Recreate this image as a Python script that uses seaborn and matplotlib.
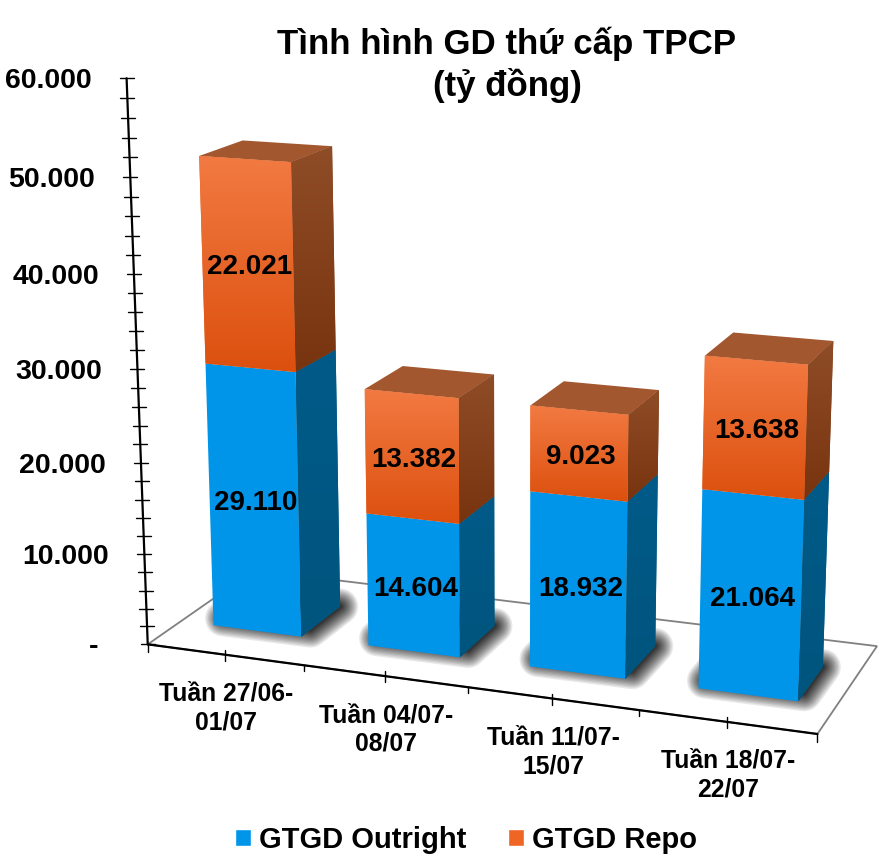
"""Stacked 3D-look column chart of weekly secondary-market bond trading."""

import matplotlib.pyplot as plt
import numpy as np
import seaborn as sns
from matplotlib.colors import LinearSegmentedColormap
from matplotlib.patches import Patch, Polygon
from matplotlib.transforms import Affine2D, Transform

WIDTH, HEIGHT = 892, 858

WEEKS = ["Tuần 27/06-\n01/07", "Tuần 04/07-\n08/07", "Tuần 11/07-\n15/07", "Tuần 18/07-\n22/07"]
OUTRIGHT = [29110, 14604, 18932, 21064]
REPO = [22021, 13382, 9023, 13638]
VALUE_TICKS = [0, 10000, 20000, 30000, 40000, 50000, 60000]
SERIES_NAMES = ["GTGD Outright", "GTGD Repo"]
TITLE = "Tình hình GD thứ cấp TPCP\n(tỷ đồng)"

BLUE = "#0095E9"
ORANGE = "#EE6524"

# Camera of the chart: (category, value / 10000, depth, 1) -> pixels / 1000.
CAMERA = np.array([
    [0.15036199, -0.00467927, 0.12765755, 0.14773153],
    [0.00709145, -0.09506851, -0.02670859, 0.64435020],
    [-0.02087038, -0.00914604, 0.08327835, 1.0],
])
BAR_WIDTH = 0.572
BAR_FRONT = 0.297
BAR_BACK = 0.691

# Top-left pixel coordinates, at dpi 100 one unit is one output pixel.
pix = Affine2D().scale(1, -1).translate(0, HEIGHT)


def project(x, value, depth=0.0):
    """Return the pixel position of a point given in chart units."""
    x, value, depth = np.broadcast_arrays(x, value, depth)
    points = np.stack([x, value / 10000, depth, np.ones_like(x, dtype=float)], axis=-1)
    h = points @ CAMERA.T
    return h[..., :2] / h[..., [2]] * 1000


class FrontPlane(Transform):
    """Send seaborn's (bar position, value) onto the front plane of the columns."""

    input_dims = 2
    output_dims = 2
    is_affine = False
    has_inverse = False

    def transform_non_affine(self, values):
        values = np.asarray(values, dtype=float)
        return project(values[:, 0] + 0.5, values[:, 1], BAR_FRONT)


def gradient(ax, outline, clip_path, clip_transform, top, bottom, zorder):
    """Paint a vertical two-colour gradient clipped to a shape."""
    cmap = LinearSegmentedColormap.from_list("face", [top, bottom])
    image = ax.imshow(
        np.linspace(0, 1, 128).reshape(-1, 1),
        cmap=cmap,
        extent=(outline[:, 0].min(), outline[:, 0].max(), outline[:, 1].max(), outline[:, 1].min()),
        origin="upper",
        aspect="auto",
        transform=pix,
        interpolation="bilinear",
        zorder=zorder,
    )
    image.set_clip_path(clip_path, clip_transform)


def shaded_polygon(ax, corners, top, bottom, zorder):
    poly = Polygon(corners, closed=True, facecolor=bottom, edgecolor="none", transform=pix, clip_on=False, zorder=zorder)
    ax.add_patch(poly)
    gradient(ax, corners, poly.get_path(), poly.get_transform(), top, bottom, zorder + 0.1)


def box_corners(i, low, high):
    left, right = i + 0.5 - BAR_WIDTH / 2, i + 0.5 + BAR_WIDTH / 2
    side = project([right, right, right, right], [high, high, low, low], [BAR_FRONT, BAR_BACK, BAR_BACK, BAR_FRONT])
    roof = project([left, right, right, left], high, [BAR_FRONT, BAR_FRONT, BAR_BACK, BAR_BACK])
    return side, roof


def draw_floor(ax):
    x = np.array([0, 4, 4, 0])
    corners = project(x, 0, [0, 0, 1, 1])
    ax.add_patch(Polygon(corners, closed=True, facecolor="white", edgecolor="#808080", linewidth=1.3,
                         transform=pix, clip_on=False, zorder=1))
    ax.plot(corners[:2, 0], corners[:2, 1], color="black", lw=1.6, transform=pix, clip_on=False, zorder=2)

    for tick in np.arange(0, 4.01, 0.5):
        px, py = project(tick, 0, 0)
        if tick in (0, 4):
            up, down = 0, 8
        elif tick % 1 == 0:
            up, down = 0, 6
        else:
            up, down = 5, 6
        ax.plot([px, px], [py - up, py + down], color="black", lw=1.0, transform=pix, clip_on=False, zorder=2)

    for i in range(len(WEEKS)):
        left, right = i + 0.5 - BAR_WIDTH / 2, i + 0.5 + BAR_WIDTH / 2
        # Soft shadow: fat round-joined outlines of the footprint, pulled back from the front edge.
        footprint = project([left, right, right, left], 0,
                            [BAR_FRONT + 0.09, BAR_FRONT + 0.09, BAR_BACK, BAR_BACK])
        for spread in 18 * np.linspace(1, 0.2, 16) ** 1.5:
            ax.add_patch(Polygon(footprint, closed=True, facecolor="none", edgecolor="black", alpha=0.09,
                                 linewidth=2 * spread * 0.72, joinstyle="round", transform=pix,
                                 clip_on=False, zorder=3))


def draw_value_axis(ax):
    ends = project([0, 0], [0, 60000])
    ax.plot(ends[:, 0], ends[:, 1], color="black", lw=1.6, transform=pix, clip_on=False, zorder=2)
    for value in range(0, 60001, 2000):
        px, py = project(0, value)
        ax.plot([px - 7, px + 7], [py, py], color="black", lw=1.0, transform=pix, clip_on=False, zorder=2)
    for value in VALUE_TICKS:
        px, py = project(0, value)
        label = f"{value:,}".replace(",", ".") if value else "-"
        ax.text(px - 35 - (14 if not value else 0), py + 3, label, ha="right", va="center", fontsize=20.5,
                fontweight="bold", color="black", transform=pix)


def main():
    sns.set_theme(style="white", rc={"text.color": "black"})
    plt.rcParams["font.family"] = ["Liberation Sans", "DejaVu Sans"]

    fig = plt.figure(figsize=(WIDTH / 100, HEIGHT / 100), dpi=100, facecolor="white")
    ax = fig.add_axes([0, 0, 1, 1])

    sns.barplot(x=WEEKS, y=OUTRIGHT, color=BLUE, saturation=1, width=BAR_WIDTH, ax=ax, zorder=5)
    sns.barplot(x=WEEKS, y=REPO, bottom=OUTRIGHT, color=ORANGE, saturation=1, width=BAR_WIDTH, ax=ax, zorder=5)
    n = len(WEEKS)
    bars = list(ax.patches[:2 * n])

    draw_floor(ax)
    draw_value_axis(ax)

    plane = FrontPlane() + pix
    for k, patch in enumerate(bars):
        i = k % n
        patch.set_transform(plane)
        patch.set_clip_on(False)
        patch.set_linewidth(0)
        low, high = patch.get_y(), patch.get_y() + patch.get_height()
        side, roof = box_corners(i, low, high)
        corners = project(
            [patch.get_x() + 0.5, patch.get_x() + patch.get_width() + 0.5] * 2,
            [high, high, low, low],
            BAR_FRONT,
        )
        if k < n:
            shaded_polygon(ax, side, "#005A88", "#00557E", 5)
        else:
            gradient(ax, corners, patch.get_path(), patch.get_transform(), "#F27A42", "#DC500E", 5.5)
            shaded_polygon(ax, side, "#8E4C27", "#78340F", 5)
            ax.add_patch(Polygon(roof, closed=True, facecolor="#A2572F", edgecolor="none", transform=pix,
                                 clip_on=False, zorder=5))
        cx, cy = corners.mean(axis=0)
        ax.text(cx + 2, cy + 4, f"{high - low:,.0f}".replace(",", "."), ha="center", va="center", fontsize=20,
                fontweight="bold", color="black", transform=pix, zorder=8)

    for i, week in enumerate(WEEKS):
        px, py = project(i + 0.5, 0, 0)
        ax.text(px + 1, py + 27, week, ha="center", va="top", fontsize=17.8, fontweight="bold", color="black",
                linespacing=1.25, transform=pix)

    ax.set_title(TITLE, x=507 / WIDTH, y=1 - 73 / HEIGHT, va="center", fontsize=25.1, fontweight="bold",
                 color="black", linespacing=1.25)

    handles = [Patch(facecolor=BLUE, label=SERIES_NAMES[0]), Patch(facecolor=ORANGE, label=SERIES_NAMES[1])]
    ax.legend(handles=handles, loc="center", bbox_to_anchor=(466, 840), bbox_transform=pix, ncol=2, frameon=False,
              handlelength=0.55, handleheight=0.55, handletextpad=0.3, columnspacing=1.4, borderpad=0,
              prop={"weight": "bold", "size": 21}, labelcolor="black")

    ax.set_xlim(-0.5, len(WEEKS) - 0.5)
    ax.set_ylim(0, 60000)
    ax.set_axis_off()
    fig.savefig("out.png", dpi=100)


if __name__ == "__main__":
    main()
